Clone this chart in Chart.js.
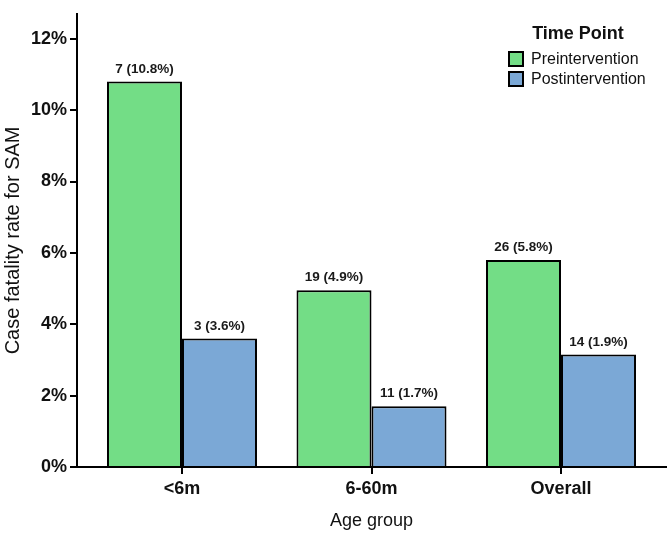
<!DOCTYPE html>
<html>
<head>
<meta charset="utf-8">
<script src="https://cdn.jsdelivr.net/npm/chart.js@4/dist/chart.umd.min.js"></script>
<style>
  body { margin: 0; background: #fff; }
  canvas { display: block; }
</style>
</head>
<body>
<canvas id="cfrChart" width="669" height="536"></canvas>
<script>
const categories = ["<6m", "6-60m", "Overall"];
const seriesNames = ["Preintervention", "Postintervention"];
// bar heights as drawn in the figure
const preValues = [10.8, 4.95, 5.8];
const postValues = [3.6, 1.7, 3.15];
// text printed above each bar
const preCounts = [7, 19, 26];
const postCounts = [3, 11, 14];
const prePctText = ["10.8", "4.9", "5.8"];
const postPctText = ["3.6", "1.7", "1.9"];
const yTicks = [0, 2, 4, 6, 8, 10, 12];

const FONT = "'Liberation Sans', Arial, sans-serif";
const green = "#73dd86";
const blue = "#7ba8d6";

function toPoints(values) {
    return values.map((v, i) => ({ x: i, y: v }));
}

// count (pct%) over each bar
const barLabels = {
    id: "barLabels",
    afterDatasetsDraw(chart) {
        const ctx = chart.ctx;
        const texts = [
            preCounts.map((c, i) => c + " (" + prePctText[i] + "%)"),
            postCounts.map((c, i) => c + " (" + postPctText[i] + "%)")
        ];
        ctx.save();
        ctx.font = "bold 13.5px " + FONT;
        ctx.fillStyle = "#1a1a1a";
        ctx.textAlign = "center";
        ctx.textBaseline = "alphabetic";
        chart.data.datasets.forEach((ds, d) => {
            chart.getDatasetMeta(d).data.forEach((bar, i) => {
                ctx.fillText(texts[d][i], bar.x, bar.y - 9);
            });
        });
        ctx.restore();
    }
};

// legend box top right
const timeLegend = {
    id: "timeLegend",
    afterDraw(chart) {
        const ctx = chart.ctx;
        ctx.save();
        ctx.fillStyle = "#111";
        ctx.font = "bold 18px " + FONT;
        ctx.textAlign = "center";
        ctx.textBaseline = "middle";
        ctx.fillText("Time Point", 578, 34);
        ctx.font = "16px " + FONT;
        ctx.textAlign = "left";
        chart.data.datasets.forEach((ds, i) => {
            const cy = 59 + i * 20;
            ctx.fillStyle = ds.backgroundColor;
            ctx.fillRect(509, cy - 7, 14, 14);
            ctx.strokeStyle = "#000";
            ctx.lineWidth = 2;
            ctx.strokeRect(509, cy - 7, 14, 14);
            ctx.fillStyle = "#111";
            ctx.fillText(ds.label, 531, cy + 1);
        });
        ctx.restore();
    }
};

new Chart(document.getElementById("cfrChart").getContext("2d"), {
    type: "bar",
    data: {
        datasets: [
            {
                label: seriesNames[0],
                data: toPoints(preValues),
                backgroundColor: green,
                borderColor: "#000",
                borderWidth: 2,
                borderSkipped: "bottom"
            },
            {
                label: seriesNames[1],
                data: toPoints(postValues),
                backgroundColor: blue,
                borderColor: "#000",
                borderWidth: 2,
                borderSkipped: "bottom"
            }
        ]
    },
    options: {
        responsive: false,
        animation: false,
        categoryPercentage: 0.7916,
        barPercentage: 1,
        layout: { padding: { left: 0, right: 3, top: 2, bottom: 0 } },
        plugins: {
            legend: { display: false },
            tooltip: { enabled: false }
        },
        scales: {
            x: {
                type: "linear",
                offset: false,
                min: -0.554,
                max: 2.554,
                afterBuildTicks(scale) {
                    scale.ticks = categories.map((c, i) => ({ value: i }));
                },
                afterFit(scale) { scale.height = 69; },
                ticks: {
                    callback: v => categories[v],
                    color: "#111",
                    font: { family: FONT, size: 18, weight: "bold" },
                    padding: 4,
                    maxRotation: 0
                },
                grid: {
                    offset: false,
                    drawOnChartArea: false,
                    color: "#000",
                    lineWidth: 2,
                    tickLength: 7
                },
                border: { color: "#000", width: 2 },
                title: {
                    display: true,
                    text: "Age group",
                    color: "#111",
                    font: { family: FONT, size: 18 },
                    padding: { top: 0, bottom: 4 }
                }
            },
            y: {
                min: 0,
                max: 12.7,
                afterBuildTicks(scale) {
                    scale.ticks = yTicks.map(v => ({ value: v }));
                },
                afterFit(scale) { scale.width = 77; },
                ticks: {
                    callback: v => v + "%",
                    color: "#111",
                    font: { family: FONT, size: 18, weight: "bold" },
                    padding: 3
                },
                grid: {
                    drawOnChartArea: false,
                    color: "#000",
                    lineWidth: 2,
                    tickLength: 7
                },
                border: { color: "#000", width: 2 },
                title: {
                    display: true,
                    text: "Case fatality rate for SAM",
                    color: "#111",
                    font: { family: FONT, size: 20 },
                    padding: { top: 1, bottom: 0 }
                }
            }
        }
    },
    plugins: [barLabels, timeLegend]
});
</script>
</body>
</html>
